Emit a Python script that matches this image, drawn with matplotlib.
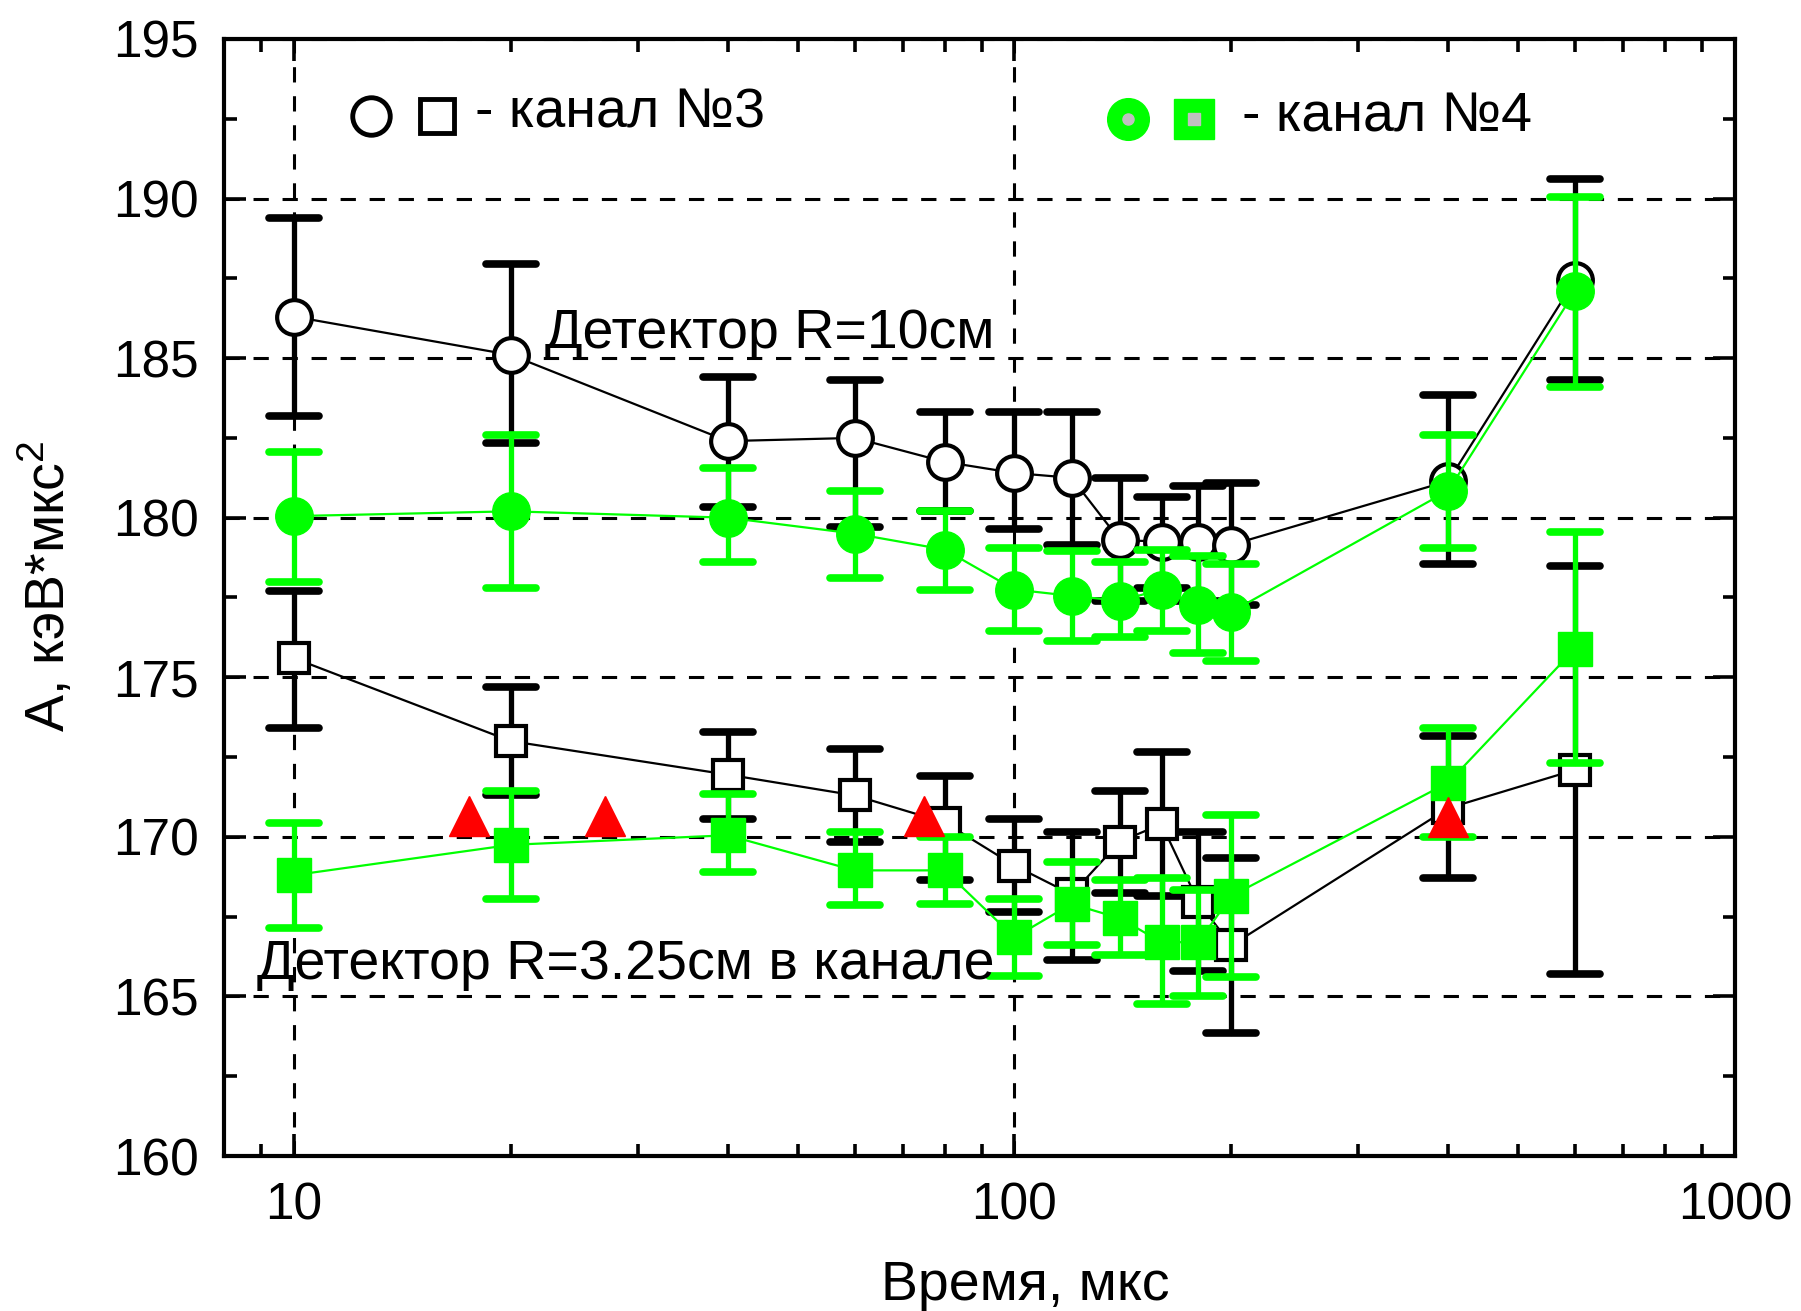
import matplotlib
matplotlib.use("Agg")
import matplotlib.pyplot as plt
from matplotlib.markers import MarkerStyle
from matplotlib.ticker import FixedLocator, MultipleLocator, NullFormatter, FixedFormatter

plt.rcParams["font.family"] = ["Liberation Sans", "DejaVu Sans"]
plt.rcParams["mathtext.fontset"] = "custom"
plt.rcParams["mathtext.rm"] = "Liberation Sans"
plt.rcParams["mathtext.it"] = "Liberation Sans"

# ------------------------------------------------------------------ #
#  Data: time (us) and amplitude A (keV*us^2)                        #
# ------------------------------------------------------------------ #
t = [10, 20, 40, 60, 80, 100, 120, 140, 160, 180, 200, 400, 600]

# channel 3, detector R = 10 cm
a3_r10 = [186.3, 185.1, 182.4, 182.5, 181.75, 181.4, 181.25, 179.3, 179.25, 179.25, 179.15, 181.15, 187.45]
a3_r10_lo = [3.1, 2.75, 2.05, 2.8, 1.55, 1.75, 2.1, 1.9, 1.45, 1.85, 1.9, 2.6, 3.15]
a3_r10_hi = [3.1, 2.85, 2.0, 1.8, 1.55, 1.9, 2.05, 1.95, 1.4, 1.75, 1.95, 2.7, 3.15]

# channel 4, detector R = 10 cm
a4_r10 = [180.05, 180.2, 180.0, 179.5, 179.0, 177.75, 177.55, 177.4, 177.75, 177.25, 177.05, 180.85, 187.1]
a4_r10_lo = [2.05, 2.4, 1.4, 1.4, 1.25, 1.3, 1.4, 1.15, 1.3, 1.5, 1.55, 1.8, 3.0]
a4_r10_hi = [2.0, 2.4, 1.55, 1.35, 1.2, 1.3, 1.4, 1.2, 1.25, 1.55, 1.5, 1.75, 2.95]

# channel 3, detector R = 3.25 cm
a3_r3 = [175.6, 173.0, 171.95, 171.3, 170.45, 169.1, 168.2, 169.85, 170.4, 167.95, 166.6, 170.9, 172.1]
a3_r3_lo = [2.2, 1.7, 1.4, 1.45, 1.8, 1.45, 2.05, 1.6, 2.25, 2.15, 2.75, 2.2, 6.4]
a3_r3_hi = [2.1, 1.7, 1.35, 1.45, 1.45, 1.45, 1.95, 1.6, 2.25, 2.2, 2.75, 2.25, 6.4]

# channel 4, detector R = 3.25 cm
a4_r3 = [168.8, 169.75, 170.05, 168.95, 168.95, 166.85, 167.9, 167.45, 166.7, 166.7, 168.15, 171.7, 175.9]
a4_r3_lo = [1.65, 1.7, 1.15, 1.1, 1.05, 1.2, 1.3, 1.15, 1.95, 1.7, 2.55, 1.7, 3.6]
a4_r3_hi = [1.65, 1.7, 1.3, 1.2, 1.05, 1.2, 1.3, 1.2, 2.0, 1.65, 2.55, 1.7, 3.65]

# additional points (red triangles)
t_tri = [17.5, 27, 75, 400]
a_tri = [170.65, 170.65, 170.65, 170.62]

BLACK = "black"
GREEN = "#00ff00"
RED = "#ff0000"
FS = 40

fig = plt.figure(figsize=(18.01, 13.11), dpi=100)
ax = fig.add_axes([0.1244, 0.1182, 0.839, 0.8521])

err_kw = dict(capsize=18, capthick=5.5, elinewidth=3.8, linewidth=1.6)


def draw_series(y, lo, hi, marker, color, face, ms, mew, z):
    _, caps, bars = ax.errorbar(t, y, yerr=[lo, hi], fmt="-" + marker, color=color,
                                ecolor=color, mfc=face, mec=color, mew=mew, ms=ms,
                                zorder=z, **err_kw)
    for c in caps:
        c.set_marker(MarkerStyle("_", capstyle="round"))
        c.set_markeredgewidth(5.5)
    for b in bars:
        b.set_capstyle("round")


draw_series(a3_r10, a3_r10_lo, a3_r10_hi, "o", BLACK, "white", 25, 3, 3)
draw_series(a3_r3, a3_r3_lo, a3_r3_hi, "s", BLACK, "white", 22, 3, 3)
draw_series(a4_r10, a4_r10_lo, a4_r10_hi, "o", GREEN, GREEN, 27, 1, 4)
draw_series(a4_r3, a4_r3_lo, a4_r3_hi, "s", GREEN, GREEN, 25, 1, 4)
ax.plot(t_tri, a_tri, linestyle="none", marker="^", color=RED, ms=29, zorder=5)

# axes
ax.set_xscale("log")
ax.set_xlim(8, 1000)
ax.set_ylim(160, 195)
ax.xaxis.set_major_locator(FixedLocator([10, 100, 1000]))
ax.xaxis.set_major_formatter(FixedFormatter(["10", "100", "1000"]))
ax.xaxis.set_minor_locator(FixedLocator([9, 20, 30, 40, 50, 60, 70, 80, 90,
                                         200, 300, 400, 500, 600, 700, 800, 900]))
ax.xaxis.set_minor_formatter(NullFormatter())
ax.yaxis.set_major_locator(MultipleLocator(5))
ax.yaxis.set_minor_locator(MultipleLocator(2.5))

ax.tick_params(which="both", direction="in", top=True, right=True, width=2.6,
               labelsize=37, pad=18)
ax.tick_params(which="major", length=16)
ax.tick_params(which="minor", length=9)
for sp in ax.spines.values():
    sp.set_linewidth(3)

ax.grid(True, which="major", color="black", linestyle=(0, (5, 4.5)), linewidth=2.2, zorder=1)
ax.set_axisbelow(True)

ax.set_xlabel("Время, мкс", fontsize=FS)
ax.xaxis.set_label_coords(0.530, -0.093)
ax.set_ylabel("А, кэВ*мкс$^2$", fontsize=FS)
ax.yaxis.set_label_coords(-0.097, 0.51)

# annotations
ax.text(22.3, 185.75, "Детектор R=10см", fontsize=FS, va="center", ha="left", zorder=6)
ax.text(8.9, 166.0, "Детектор R=3.25см в канале", fontsize=FS, va="center", ha="left", zorder=6)

# hand-made legend
tr = ax.transAxes
ax.plot([0.0975], [0.931], marker="o", ms=27, mfc="white", mec=BLACK, mew=3.5,
        transform=tr, clip_on=False, zorder=6)
ax.plot([0.141], [0.931], marker="s", ms=25, mfc="white", mec=BLACK, mew=3.5,
        transform=tr, clip_on=False, zorder=6)
ax.text(0.166, 0.933, "- канал №3", fontsize=FS, va="center", ha="left", transform=tr)

ax.plot([0.598], [0.928], marker="o", ms=30, mfc=GREEN, mec=GREEN,
        transform=tr, clip_on=False, zorder=6)
ax.plot([0.598], [0.928], marker="o", ms=8, mfc="#c0c0c0", mec="#c0c0c0",
        transform=tr, clip_on=False, zorder=7)
ax.plot([0.642], [0.928], marker="s", ms=29, mfc=GREEN, mec=GREEN,
        transform=tr, clip_on=False, zorder=6)
ax.plot([0.642], [0.928], marker="s", ms=8, mfc="#c0c0c0", mec="#c0c0c0",
        transform=tr, clip_on=False, zorder=7)
ax.text(0.674, 0.930, "- канал №4", fontsize=FS, va="center", ha="left", transform=tr)

fig.savefig("out.png", dpi=100, facecolor="white")
